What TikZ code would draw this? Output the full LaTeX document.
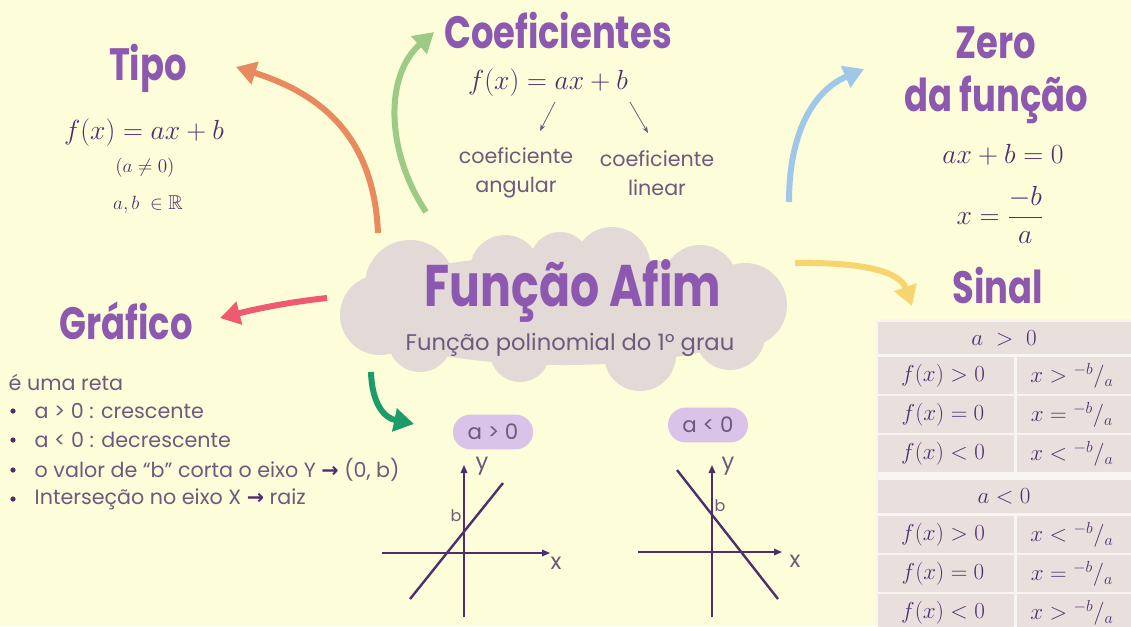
\documentclass[tikz,border=0pt]{standalone}
\usepackage{amsmath,amssymb}
\usepackage[no-math]{fontspec}
\usepackage{graphicx}
\setmainfont{Poppins}
\newfontfamily\headfont{Poppins}
\newfontfamily\symfont{DejaVu Sans}
\usetikzlibrary{arrows.meta,positioning}

\definecolor{paper}{HTML}{FDFDD9}
\definecolor{titlepurple}{HTML}{8C58B0}
\definecolor{mathpurple}{HTML}{4E2F6E}
\definecolor{softtext}{HTML}{6E5A7C}
\definecolor{cloudpink}{HTML}{E3D9D7}
\definecolor{pillpurple}{HTML}{D9C3E8}
\definecolor{cellpink}{HTML}{E9E0DE}
\definecolor{cellgap}{HTML}{F8F4F2}
\definecolor{arroworange}{HTML}{E8895E}
\definecolor{arrowgreen}{HTML}{9DCB86}
\definecolor{arrowblue}{HTML}{9FC8E8}
\definecolor{arrowyellow}{HTML}{F6D56E}
\definecolor{arrowred}{HTML}{EE5A6F}
\definecolor{arrowteal}{HTML}{1C9C6B}

\newcommand\narrow[1]{\scalebox{0.78}[1]{#1}}
\newcommand\slashfrac[2]{\vphantom{x}^{#1}/_{#2}}

\begin{document}
\begin{tikzpicture}[x=0.75pt,y=-0.75pt,
  title/.style={text=titlepurple, font=\headfont\bfseries\fontsize{34}{36}\selectfont},
  formula/.style={text=mathpurple, font=\fontsize{22}{26}\selectfont},
  smallmath/.style={text=mathpurple, font=\fontsize{15}{18}\selectfont},
  body/.style={text=softtext, font=\fontsize{15.5}{18}\selectfont},
  cellmath/.style={text=mathpurple, font=\fontsize{17.5}{20}\selectfont},
  bendarrow/.style={line width=4.5pt, -{Triangle[length=15pt,width=17pt]}},
  thinarrow/.style={draw=softtext, line width=0.6pt, -{Stealth[length=5pt]}},
  pill/.style={fill=pillpurple, text=softtext, rounded corners=12.9pt,
    minimum width=60pt, minimum height=26pt, font=\fontsize{16}{19}\selectfont},
  axis/.style={draw=mathpurple, line width=1pt, -{Triangle[length=6pt,width=5pt]}},
  graphline/.style={draw=mathpurple, line width=1.8pt},
]
\useasboundingbox (0,0) rectangle (1131,626);
\fill[paper] (0,0) rectangle (1131,626);

% cloud in the middle
\fill[cloudpink] (563,310) ellipse [x radius=215, y radius=55];
\foreach \cx/\cy/\r in {410/285/45, 380/315/40, 505/270/35, 560/262/30,
                        612/265/38, 700/282/37, 745/305/42, 730/335/35,
                        640/355/36, 520/352/30, 420/340/32}
  \fill[cloudpink] (\cx,\cy) circle (\r);
\node[title, font=\headfont\bfseries\fontsize{44}{48}\selectfont] (afim) at (573,291) {\narrow{Função Afim}};
\node[body, font=\fontsize{17}{20}\selectfont] (poli) at (570,345) {Função polinomial do 1º grau};

% Tipo
\node[title] (tipo) at (148,68) {\narrow{Tipo}};
\node[formula] (tipof) at (144,133) {$f(x) = ax + b$};
\node[smallmath] (naozero) at (145,168) {$(a \neq 0)$};
\node[smallmath] (reais) at (148,204) {$a,b\ \in \mathbb{R}$};

% Coeficientes
\node[title] (coef) at (558,31) {\narrow{Coeficientes}};
\node[formula] (coeff) at (548,83) {$f(x) = ax + b$};
\node[body, align=center] (angular) at (516,173) {coeficiente\\[4pt]angular};
\node[body, align=center] (linear) at (657,173) {coeficiente\\[4pt]linear};
\coordinate (aS) at (555,102);
\coordinate (aE) at (540,131);
\coordinate (bS) at (630,102);
\coordinate (bE) at (648,133);
\draw[thinarrow] (aS) -- (aE);
\draw[thinarrow] (bS) -- (bE);

% Zero da funcao
\node[title] (zero) at (996,43) {\narrow{Zero}};
\node[title] (dafuncao) at (996,100) {\narrow{da função}};
\node[formula] (zerof) at (1003,155) {$ax + b = 0$};
\node[formula] (raiz) at (1000,215) {$x = \dfrac{-b}{a}$};

% Sinal
\node[title] (sinal) at (998,286) {\narrow{Sinal}};

% Grafico
\node[title] (grafico) at (126,321) {\narrow{Gráfico}};
\node[body, anchor=west] (reta) at (4,383) {é uma reta};
\foreach \yy/\txt [count=\i] in {
    411/{a > 0 : crescente},
    440/{a < 0 : decrescente},
    470/{o valor de “b” corta o eixo Y {\symfont\bfseries\color{mathpurple}→} (0, b)},
    499/{Interseção no eixo X {\symfont\bfseries\color{mathpurple}→} raiz}} {
  \fill[mathpurple] (13,\yy) circle (2.6);
  \node[body, anchor=west] (item\i) at (30,\yy) {\txt};
}

% arrows leaving the cloud
\coordinate (oS) at (378,233);
\coordinate (oE) at (236,67);
\draw[bendarrow, arroworange] (oS) .. controls (374,140) and (325,95) .. (oE);
\coordinate (gS) at (426,212);
\coordinate (gE) at (434,32);
\draw[bendarrow, arrowgreen] (gS) .. controls (385,150) and (385,75) .. (gE);
\coordinate (uS) at (789,202);
\coordinate (uE) at (864,69);
\draw[bendarrow, arrowblue] (uS) .. controls (789,130) and (815,90) .. (uE);
\coordinate (yS) at (795,263);
\coordinate (yE) at (912,306);
\draw[bendarrow, arrowyellow] (yS) .. controls (865,262) and (900,272) .. (yE);
\coordinate (rS) at (327,298);
\coordinate (rE) at (220,318);
\draw[bendarrow, arrowred] (rS) .. controls (290,302) and (260,308) .. (rE);
\coordinate (tS) at (371,372);
\coordinate (tE) at (414,424);
\draw[bendarrow, arrowteal] (tS) .. controls (372,405) and (385,418) .. (tE);

% graphs
\node[pill] (pos) at (493,432) {a > 0};
\node[pill] (neg) at (708,425) {a < 0};

\coordinate (p1b) at (464,617);
\coordinate (p1t) at (464,465);
\coordinate (p1l) at (382,553);
\coordinate (p1r) at (550,553);
\draw[axis] (p1b) -- (p1t);
\draw[axis] (p1l) -- (p1r);
\draw[graphline] (410,599) -- (503,483);
\node[body, font=\fontsize{17}{19}\selectfont] (y1) at (482,466) {y};
\node[body, font=\fontsize{17}{19}\selectfont] (x1) at (556,563) {x};
\node[body, font=\fontsize{12}{14}\selectfont] (b1) at (456,516) {b};

\coordinate (p2b) at (712,617);
\coordinate (p2t) at (712,465);
\coordinate (p2l) at (638,552);
\coordinate (p2r) at (782,552);
\draw[axis] (p2b) -- (p2t);
\draw[axis] (p2l) -- (p2r);
\draw[graphline] (677,470) -- (778,599);
\node[body, font=\fontsize{17}{19}\selectfont] (y2) at (728,466) {y};
\node[body, font=\fontsize{17}{19}\selectfont] (x2) at (795,561) {x};
\node[body, font=\fontsize{12}{14}\selectfont] (b2) at (720,506) {b};

% sign table
\fill[cellgap] (876,319) rectangle (1131,626);
\fill[cellpink] (878,322) rectangle (1131,354);
\fill[cellpink] (878,480) rectangle (1131,513);
\foreach \top in {357,396,435,516,555,594} {
  \fill[cellpink] (878,\top) rectangle (1014,\top+37);
  \fill[cellpink] (1017,\top) rectangle (1131,\top+37);
}
\node[cellmath] (hpos) at (1004,338) {$a\ >\ 0$};
\node[cellmath] (hneg) at (1004,496) {$a < 0$};
\foreach \yy/\lhs/\rhs [count=\i] in {
    376/{f(x) > 0}/{x > \slashfrac{-b}{a}},
    415/{f(x) = 0}/{x = \slashfrac{-b}{a}},
    454/{f(x) < 0}/{x < \slashfrac{-b}{a}},
    535/{f(x) > 0}/{x < \slashfrac{-b}{a}},
    574/{f(x) = 0}/{x = \slashfrac{-b}{a}},
    613/{f(x) < 0}/{x > \slashfrac{-b}{a}}} {
  \node[cellmath] (lhs\i) at (943,\yy) {$\lhs$};
  \node[cellmath] (rhs\i) at (1072,\yy) {$\rhs$};
}
\end{tikzpicture}
\end{document}
